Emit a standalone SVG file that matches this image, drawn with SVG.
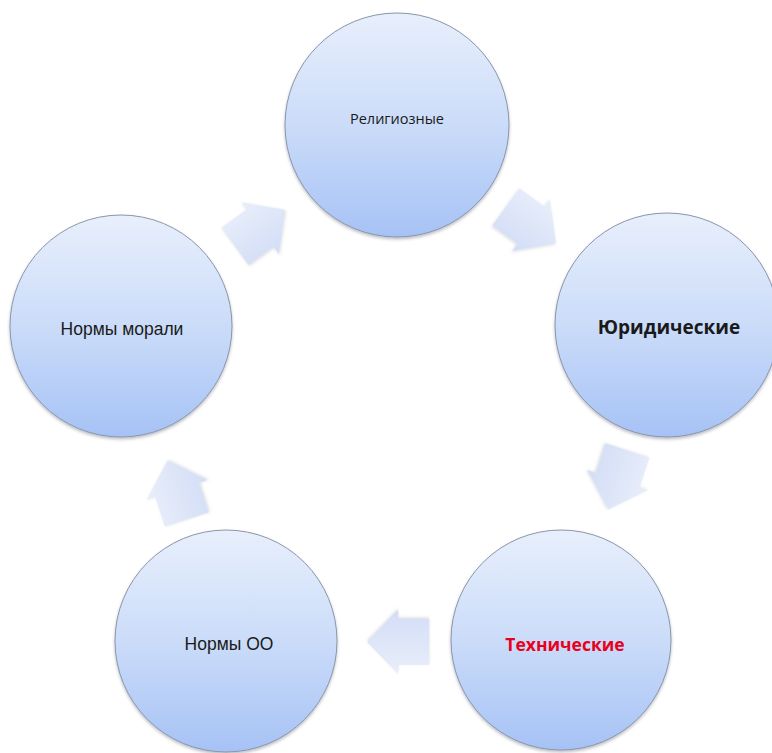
<svg xmlns="http://www.w3.org/2000/svg" width="772" height="753" viewBox="0 0 772 753">
<defs>
<linearGradient id="cg" x1="0" y1="0" x2="0" y2="1">
<stop offset="0" stop-color="#e8effc"/>
<stop offset="0.5" stop-color="#cbdcf9"/>
<stop offset="1" stop-color="#a6c2f5"/>
</linearGradient>
<linearGradient id="ag" x1="0" y1="0" x2="0" y2="1">
<stop offset="0" stop-color="#e9eefa"/>
<stop offset="1" stop-color="#d2ddf6"/>
</linearGradient>
<filter id="cs" x="-10%" y="-10%" width="120%" height="125%">
<feDropShadow dx="0" dy="2" stdDeviation="1.5" flood-color="#404860" flood-opacity="0.35"/>
</filter>
<filter id="as" x="-20%" y="-20%" width="140%" height="140%">
<feDropShadow dx="0" dy="1.5" stdDeviation="1.5" flood-color="#808898" flood-opacity="0.3"/>
</filter>
<path id="arr" d="M-31,-23 L0,-23 L0,-32 L31,0 L0,32 L0,23 L-31,23 Z"/>
</defs>
<style>
.c{fill:url(#cg);stroke:#8a96aa;stroke-width:1;filter:url(#cs)}
.a{fill:url(#ag);filter:url(#as)}
.t{font-family:"Open Sans","Noto Sans",sans-serif;text-anchor:middle;dominant-baseline:central;fill:#1a1a1a}
.ar{font-family:"Liberation Sans",Arial,sans-serif;text-anchor:middle;dominant-baseline:central;fill:#1a1a1a;font-size:17.5px}
</style>
<rect width="772" height="753" fill="#ffffff"/>
<g id="connectors">
<use href="#arr" class="a" transform="translate(260,228) rotate(-36)"/>
<use href="#arr" class="a" transform="translate(531,225) rotate(36)"/>
<use href="#arr" class="a" transform="translate(618,480) rotate(108)"/>
<use href="#arr" class="a" transform="translate(398,642) rotate(180)"/>
<use href="#arr" class="a" transform="translate(177,490) rotate(-108)"/>
</g>
<g id="node-religious">
<circle class="c" cx="397" cy="125" r="112"/>
<text class="t" x="397" y="118" font-size="14.5px">Религиозные</text>
</g>
<g id="node-legal">
<circle class="c" cx="667" cy="325" r="112"/>
<text class="t" x="669" y="327" font-size="19px" font-weight="bold">Юридические</text>
</g>
<g id="node-technical">
<circle class="c" cx="561" cy="640" r="110"/>
<text class="t" x="565" y="644" font-size="17.5px" font-weight="bold" style="fill:#e8001c">Технические</text>
</g>
<g id="node-oo">
<circle class="c" cx="226" cy="641" r="111"/>
<text class="ar" x="229" y="644">Нормы ОО</text>
</g>
<g id="node-morals">
<circle class="c" cx="121" cy="326" r="111"/>
<text class="ar" x="122" y="329">Нормы морали</text>
</g>
</svg>
